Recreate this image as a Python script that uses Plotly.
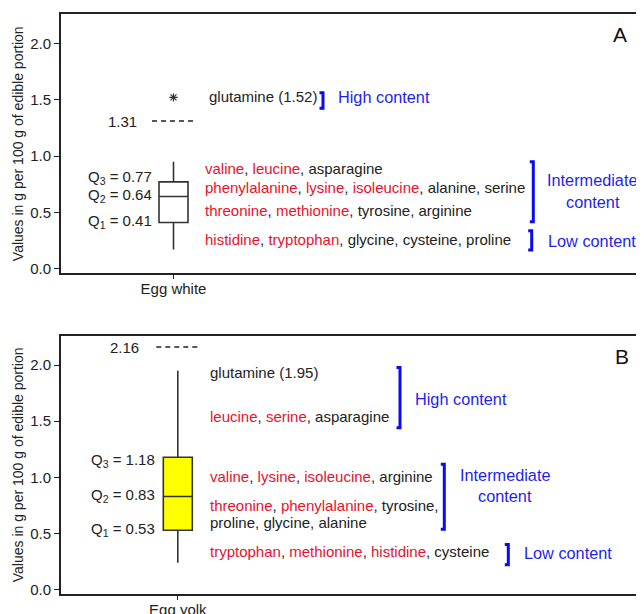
import plotly.graph_objects as go

# ---------------- data ----------------
samples = ["Egg white", "Egg yolk"]
panel_tags = ["A", "B"]
q1_vals = [0.41, 0.53]
median_vals = [0.64, 0.83]
q3_vals = [0.77, 1.18]
whisker_low = [0.17, 0.24]
whisker_high = [0.95, 1.95]
upper_fence = [1.31, 2.16]
box_fill = ["white", "#FFFF00"]

outlier_names = ["glutamine"]
outlier_values = [1.52]

y_ticks = [0.0, 0.5, 1.0, 1.5, 2.0]
y_tick_labels = ["0.0", "0.5", "1.0", "1.5", "2.0"]

# amino-acid text lines (name, essential-highlight)
white_lines = [
    [("glutamine (1.52)", False)],
    [("valine", True), ("leucine", True), ("asparagine", False)],
    [("phenylalanine", True), ("lysine", True), ("isoleucine", True), ("alanine", False), ("serine", False)],
    [("threonine", True), ("methionine", True), ("tyrosine", False), ("arginine", False)],
    [("histidine", True), ("tryptophan", True), ("glycine", False), ("cysteine", False), ("proline", False)],
]
yolk_lines = [
    [("glutamine (1.95)", False)],
    [("leucine", True), ("serine", True), ("asparagine", False)],
    [("valine", True), ("lysine", True), ("isoleucine", True), ("arginine", False)],
    [("threonine", True), ("phenylalanine", True), ("tyrosine,", False)],
    [("proline", False), ("glycine", False), ("alanine", False)],
    [("tryptophan", True), ("methionine", True), ("histidine", True), ("cysteine", False)],
]
group_labels = ["High content", "Intermediate", "content", "Low content"]

RED = "#E8112D"
BLUE = "#1F1FEE"
BR_BLUE = "#0A0AF5"
INK = "#222222"
FONT = "Liberation Sans, Arial, sans-serif"


def rich(items):
    parts = []
    for i, (name, red) in enumerate(items):
        col = RED if red else INK
        sep = ", " if i < len(items) - 1 else ""
        parts.append(f"<span style='color:{col}'>{name}</span>{sep}")
    return "".join(parts)


fig = go.Figure()

axes = [("x", "y"), ("x2", "y2")]
for k in range(2):
    xa, ya = axes[k]
    fig.add_trace(go.Box(
        x=[0], q1=[q1_vals[k]], median=[median_vals[k]], q3=[q3_vals[k]],
        lowerfence=[whisker_low[k]], upperfence=[whisker_high[k]],
        width=0.29, whiskerwidth=0, fillcolor=box_fill[k],
        line=dict(color="#333333", width=1.6), boxpoints=False,
        xaxis=xa, yaxis=ya, showlegend=False, hoverinfo="skip",
    ))
    # upper fence dashed mark
    fig.add_trace(go.Scatter(
        x=[-0.215, 0.23], y=[upper_fence[k], upper_fence[k]], mode="lines",
        line=dict(color="#222222", width=1.5, dash="5px,4px"),
        xaxis=xa, yaxis=ya, showlegend=False, hoverinfo="skip",
    ))

# outlier
fig.add_trace(go.Scatter(
    x=[0], y=outlier_values, mode="markers",
    marker=dict(symbol="asterisk-open", size=7, color="#333333",
                line=dict(color="#333333", width=1.2)),
    xaxis="x", yaxis="y", showlegend=False, hoverinfo="skip",
))

ann = []
shapes = []


def txt(x, y, text, xref, yref, anchor="left", size=15, color=INK):
    ann.append(dict(x=x, y=y, xref=xref, yref=yref, text=text, showarrow=False,
                    xanchor=anchor, yanchor="middle",
                    font=dict(family=FONT, size=size, color=color)))


def bracket(x, y0, y1, xref, yref, d=0.035):
    shapes.append(dict(type="path", xref=xref, yref=yref,
                       path=f"M {x-d},{y1} L {x},{y1} L {x},{y0} L {x-d},{y0}",
                       line=dict(color=BR_BLUE, width=3)))


GS = 16.3  # group label font size

# ---- panel A ----
txt(-0.342, upper_fence[0], f"{upper_fence[0]:.2f}", "x", "y", anchor="right", size=15)
txt(-0.875, 0.807, f"Q<sub>3</sub> = {q3_vals[0]:.2f}", "x", "y", size=15)
txt(-0.875, 0.648, f"Q<sub>2</sub> = {median_vals[0]:.2f}", "x", "y", size=15)
txt(-0.875, 0.417, f"Q<sub>1</sub> = {q1_vals[0]:.2f}", "x", "y", size=15)
wy = [1.526, 0.885, 0.722, 0.515, 0.255]
wx = [0.332, 0.292, 0.292, 0.292, 0.292]
for line, yy, xx in zip(white_lines, wy, wx):
    txt(xx, yy, rich(line), "x", "y")
bracket(1.495, 1.423, 1.562, "x", "y")
txt(1.625, 1.521, group_labels[0], "x", "y", size=GS, color=BLUE)
bracket(3.598, 0.417, 0.949, "x", "y")
txt(4.19, 0.787, group_labels[1], "x", "y", anchor="center", size=GS, color=BLUE)
txt(4.19, 0.594, group_labels[2], "x", "y", anchor="center", size=GS, color=BLUE)
bracket(3.582, 0.166, 0.337, "x", "y")
txt(3.725, 0.248, group_labels[3], "x", "y", size=GS, color=BLUE)
txt(4.465, 2.074, panel_tags[0], "x", "y", anchor="center", size=21, color="#111111")

# ---- panel B ----
txt(-0.368, upper_fence[1], f"{upper_fence[1]:.2f}", "x2", "y2", anchor="right", size=15)
txt(-0.888, 1.153, f"Q<sub>3</sub> = {q3_vals[1]:.2f}", "x2", "y2", size=15)
txt(-0.888, 0.835, f"Q<sub>2</sub> = {median_vals[1]:.2f}", "x2", "y2", size=15)
txt(-0.888, 0.538, f"Q<sub>1</sub> = {q1_vals[1]:.2f}", "x2", "y2", size=15)
yy_b = [1.931, 1.545, 1.004, 0.752, 0.597, 0.342]
for line, yy in zip(yolk_lines, yy_b):
    txt(0.305, yy, rich(line), "x2", "y2")
bracket(2.222, 1.441, 1.979, "x2", "y2")
txt(2.349, 1.697, group_labels[0], "x2", "y2", size=GS, color=BLUE)
bracket(2.665, 0.538, 1.117, "x2", "y2")
txt(3.272, 1.02, group_labels[1], "x2", "y2", anchor="center", size=GS, color=BLUE)
txt(3.272, 0.833, group_labels[2], "x2", "y2", anchor="center", size=GS, color=BLUE)
bracket(3.305, 0.223, 0.404, "x2", "y2")
txt(3.439, 0.330, group_labels[3], "x2", "y2", size=GS, color=BLUE)
txt(4.439, 2.074, panel_tags[1], "x2", "y2", anchor="center", size=21, color="#111111")

axis_common = dict(showline=True, linecolor="#222222", linewidth=2, showgrid=False,
                   zeroline=False, ticks="outside", tickcolor="#222222", automargin=False,
                   tickfont=dict(family=FONT, size=15, color=INK))

ytitle = dict(text="Values in g per 100 g of edible portion",
              font=dict(family=FONT, size=14, color=INK), standoff=3)

fig.update_layout(
    width=644, height=614,
    margin=dict(l=53, r=0, t=6, b=28),
    paper_bgcolor="white", plot_bgcolor="white",
    xaxis=dict(domain=[0, 1], range=[-1.125, 4.785], tickvals=[0], ticktext=[samples[0]],
               mirror=True, ticklen=4, ticklabelstandoff=-3, anchor="y", **axis_common),
    yaxis=dict(domain=[0.5526, 1.0], range=[-0.0426, 2.260], tickvals=y_ticks,
               ticktext=y_tick_labels, ticklen=5, anchor="x", title=ytitle, **axis_common),
    xaxis2=dict(domain=[0, 1], range=[-1.168, 4.742], tickvals=[0], ticktext=[samples[1]],
                mirror=True, ticklen=4, ticklabelstandoff=-3, anchor="y2", **axis_common),
    yaxis2=dict(domain=[0.0, 0.4453], range=[-0.0375, 2.261], tickvals=y_ticks,
                ticktext=y_tick_labels, ticklen=5, anchor="x2", title=ytitle, **axis_common),
    annotations=ann, shapes=shapes,
)

fig.write_html("out.html")
